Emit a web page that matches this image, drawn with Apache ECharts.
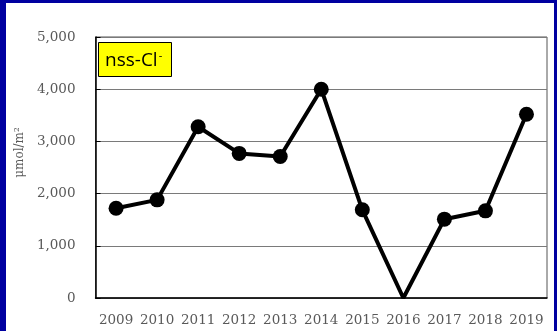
<!DOCTYPE html>
<html>
<head>
<meta charset="utf-8">
<script src="https://cdn.jsdelivr.net/npm/echarts@6/dist/echarts.min.js"></script>
<style>
  html, body { margin: 0; padding: 0; background: #0000a0; }
  #chart { position: absolute; left: 6px; top: 3px; width: 548px; height: 328px; background: #fff; }
</style>
</head>
<body>
<div id="chart"></div>
<script>
// data
const years = ['2009', '2010', '2011', '2012', '2013', '2014', '2015', '2016', '2017', '2018', '2019'];
const nssCl = [1720, 1880, 3280, 2770, 2710, 4000, 1690, 0, 1510, 1670, 3520];
const yTicks = [0, 1000, 2000, 3000, 4000, 5000];

const chart = echarts.init(document.getElementById('chart'));

const serif = '"DejaVu Serif", serif';

const option = {
  animation: false,
  title: {
    text: '{a|nss-Cl}{b|-}',
    left: 92,
    top: 39,
    backgroundColor: '#ffff00',
    borderColor: '#000',
    borderWidth: 1,
    padding: [8, 10, 7, 7],
    textStyle: {
      fontWeight: 'normal',
      rich: {
        a: { fontFamily: '"Open Sans", sans-serif', fontSize: 19, fontWeight: 'normal', color: '#000' },
        b: { fontFamily: '"Open Sans", sans-serif', fontSize: 11, fontWeight: 'normal', color: '#000', verticalAlign: 'top', padding: [0, 0, 10, 1] }
      }
    }
  },
  grid: {
    left: 87,
    top: 34,
    right: 7,
    bottom: 33,
    show: true,
    borderColor: '#555',
    borderWidth: 1
  },
  xAxis: {
    type: 'category',
    data: years,
    boundaryGap: true,
    axisLine: { lineStyle: { color: '#000', width: 1.5 } },
    axisTick: { show: false },
    axisLabel: { interval: 0, hideOverlap: false, fontFamily: serif, fontSize: 13.5, color: '#595959', margin: 15 }
  },
  yAxis: {
    type: 'value',
    min: yTicks[0],
    max: yTicks[yTicks.length - 1],
    interval: 1000,
    name: 'μmol/m²',
    nameLocation: 'middle',
    nameGap: 66,
    nameRotate: 90,
    nameTextStyle: { fontFamily: serif, fontSize: 12, color: '#595959', padding: [0, 0, 0, 30] },
    axisLine: { show: true, lineStyle: { color: '#000', width: 1.5 } },
    axisTick: { show: true, inside: true, length: 5, lineStyle: { color: '#000' } },
    axisLabel: {
      fontFamily: serif, fontSize: 13.5, color: '#595959', margin: 20,
      formatter: v => v.toLocaleString('en-US')
    },
    splitLine: { lineStyle: { color: '#7a7a7a', width: 1 } }
  },
  series: [
    {
      name: 'nss-Cl-',
      type: 'line',
      data: nssCl.map(v => v === 0 ? { value: v, symbolSize: 0 } : v),
      symbol: 'circle',
      symbolSize: 15,
      itemStyle: { color: '#000' },
      lineStyle: { color: '#000', width: 4 }
    }
  ]
};

chart.setOption(option);
</script>
</body>
</html>
